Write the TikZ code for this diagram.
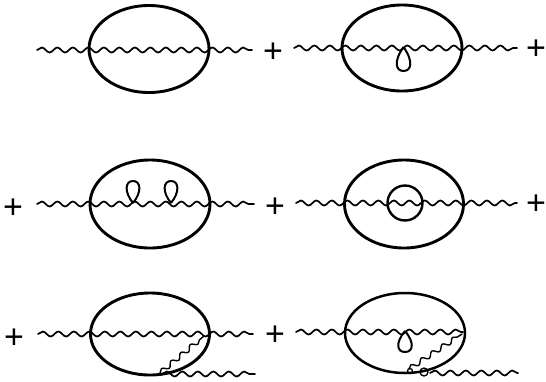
\documentclass[tikz,border=0pt]{standalone}
\usepackage{fontspec}
\setmainfont{Liberation Sans}
\usetikzlibrary{decorations.pathmorphing,shapes.geometric}
\tikzset{
  blob/.style={draw=black,ellipse,line width=2.9pt,inner sep=0pt,outer sep=0pt},
  wave/.style={line width=1.7pt,line cap=round,line join=round,decorate,decoration={snake,segment length=15.5pt,amplitude=2.5pt}},
  thinwave/.style={wave,line width=1.4pt,decoration={snake,segment length=12.5pt,amplitude=2.4pt}},
  plus/.style={font=\fontsize{34}{34}\selectfont,inner sep=0pt,yshift=-2.5pt},
  drop/.style={line width=2pt,line join=round},
}
\begin{document}
\begin{tikzpicture}[x=1pt,y=-1pt]
\useasboundingbox[fill=white] (0,0) rectangle (546,381);
% row 1
\node[blob,minimum width=120pt,minimum height=87pt] (a) at (149,49) {};
\coordinate (al) at (37,50); \coordinate (ar) at (252,50);
\draw[wave] (al) -- (ar);
\node[plus] (p1) at (273,50) {+};
\node[blob,minimum width=120pt,minimum height=86pt] (b) at (402,48) {};
\coordinate (bl) at (294,48); \coordinate (br) at (517,48);
\draw[wave] (bl) -- (br);
\coordinate (bt) at (403.5,47);
\draw[drop] (bt) .. controls (393,62) and (396,71) .. (403.5,71) .. controls (411,71) and (414,62) .. (bt);
\node[plus] (p2) at (536,47) {+};
% row 2
\node[plus] (p3) at (13,206) {+};
\node[blob,minimum width=120pt,minimum height=88pt] (c) at (150,204) {};
\coordinate (cl) at (37,204); \coordinate (cr) at (254,204);
\draw[wave] (cl) -- (cr);
\coordinate (c1) at (133,203); \coordinate (c2) at (171,203);
\draw[drop] (c1) .. controls (124,192) and (125,181) .. (133,181) .. controls (141,181) and (142,192) .. (c1);
\draw[drop] (c2) .. controls (162,192) and (163,181) .. (171,181) .. controls (179,181) and (180,192) .. (c2);
\node[plus] (p4) at (275,205) {+};
\node[blob,minimum width=119pt,minimum height=88pt] (d) at (404,204) {};
\coordinate (dl) at (296,203); \coordinate (dr) at (517,203);
\draw[wave] (dl) -- (dr);
\node[draw=black,circle,line width=2.4pt,minimum size=35pt,inner sep=0pt] (dc) at (405,203) {};
\node[plus] (p5) at (536,202) {+};
% row 3
\node[plus] (p6) at (14,336) {+};
\node[blob,minimum width=119pt,minimum height=82pt] (e) at (150,334) {};
\coordinate (el) at (38,334); \coordinate (er) at (253,334);
\draw[wave] (el) -- (er);
\coordinate (ed1) at (160,373); \coordinate (ed2) at (204,336);
\draw[thinwave] (ed1) -- (ed2);
\coordinate (eb1) at (162,374); \coordinate (eb2) at (255,374);
\draw[wave] (eb1) -- (eb2);
\node[plus] (p7) at (275,333) {+};
\node[blob,line width=2.5pt,minimum width=120pt,minimum height=80pt] (f) at (405,333) {};
\coordinate (fl) at (296,332); \coordinate (fr) at (463,332);
\draw[wave] (fl) -- (fr);
\coordinate (ft) at (405,331);
\draw[drop] (ft) .. controls (395,343) and (397,352) .. (405,352) .. controls (413,352) and (415,343) .. (ft);
\coordinate (fd1) at (409,369); \coordinate (fd2) at (462,334);
\draw[thinwave] (fd1) -- (fd2);
\coordinate (fb1) at (430,373); \coordinate (fb2) at (518,373);
\draw[wave] (fb1) -- (fb2);
\node[draw=black,circle,line width=1.3pt,minimum size=8pt,inner sep=0pt] (fs) at (424,372) {};
\node[draw=black,circle,line width=1.3pt,minimum size=5pt,inner sep=0pt] (ft2) at (410,371) {};
\end{tikzpicture}
\end{document}
